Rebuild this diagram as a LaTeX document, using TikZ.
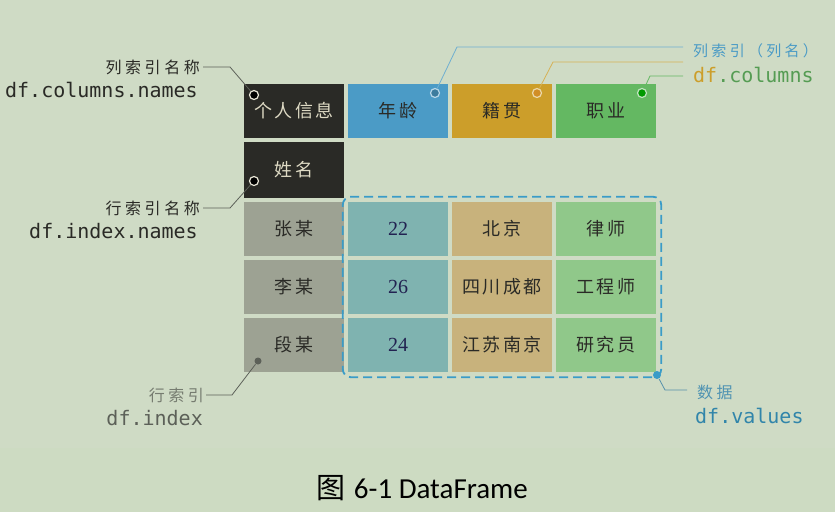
\documentclass[tikz,border=0pt]{standalone}
\usepackage{fontspec}
\usepackage{tikz}
\usetikzlibrary{positioning, calc, fit}
\newfontfamily\cjk[LetterSpace=12]{Noto Sans CJK SC}
\newfontfamily\cjkwide[LetterSpace=22]{Noto Sans CJK SC}
\newfontfamily\cjkplain{Noto Sans CJK SC}
\newfontfamily\monofont{DejaVu Sans Mono}
\newfontfamily\numfont{Liberation Serif}
\newfontfamily\capfont{Carlito}
\definecolor{bgtop}{RGB}{207, 219, 197}
\definecolor{bgbot}{RGB}{205, 219, 194}
\definecolor{inkdark}{RGB}{42, 42, 38}
\definecolor{inklight}{RGB}{222, 218, 196}
\definecolor{agecol}{RGB}{75, 155, 198}
\definecolor{origcol}{RGB}{204, 158, 42}
\definecolor{jobcol}{RGB}{100, 184, 98}
\definecolor{idxcol}{RGB}{157, 162, 147}
\definecolor{agedata}{RGB}{127, 179, 176}
\definecolor{origdata}{RGB}{200, 178, 124}
\definecolor{jobdata}{RGB}{144, 200, 138}
\definecolor{valblue}{RGB}{58, 156, 200}
\definecolor{leadgray}{RGB}{92, 96, 88}
\definecolor{labelgray}{RGB}{118, 124, 112}

\begin{document}
\begin{tikzpicture}[x=1pt, y=-1pt,
  cell/.style={minimum width=100pt, minimum height=54pt, inner sep=0pt, text=inkdark, font=\cjk\fontsize{18}{18}\selectfont},
  namecell/.style={cell, fill=inkdark, text=inklight},
  numcell/.style={cell, fill=agedata, text=inkdark!80!blue, font=\numfont\fontsize{20}{20}\selectfont},
  lead/.style={line width=0.8pt, draw=leadgray},
  pin/.style={circle, inner sep=0pt, minimum size=9pt, line width=1.2pt},
  cjklabel/.style={inner sep=0pt, font=\cjkwide\fontsize{16}{16}\selectfont},
  codelabel/.style={inner sep=0pt, font=\monofont\fontsize{20}{20}\selectfont}]

  % background
  \useasboundingbox (0,0) rectangle (835,512);
  \fill[bgtop] (0,0) rectangle (835,448);
  \fill[bgbot] (0,448) rectangle (835,512);

  % header row
  \node[namecell] (hname) at (294,111) {个人信息};
  \node[cell, fill=agecol] (hage) at (398,111) {年龄};
  \node[cell, fill=origcol] (horig) at (502,111) {籍贯};
  \node[cell, fill=jobcol] (hjob) at (606,111) {职业};
  \node[namecell, minimum height=56pt] (iname) at (294,170) {姓名};

  % index and data rows
  \node[cell, fill=idxcol] (i1) at (294,229) {张某};
  \node[cell, fill=idxcol] (i2) at (294,287) {李某};
  \node[cell, fill=idxcol] (i3) at (294,345) {段某};
  \node[numcell] (age1) at (398,229) {22};
  \node[numcell] (age2) at (398,287) {26};
  \node[numcell] (age3) at (398,345) {24};
  \node[cell, fill=origdata] (orig1) at (502,229) {北京};
  \node[cell, fill=origdata] (orig2) at (502,287) {四川成都};
  \node[cell, fill=origdata] (orig3) at (502,345) {江苏南京};
  \node[cell, fill=jobdata] (job1) at (606,229) {律师};
  \node[cell, fill=jobdata] (job2) at (606,287) {工程师};
  \node[cell, fill=jobdata] (job3) at (606,345) {研究员};

  % values frame
  \node[draw=valblue, dash pattern=on 9pt off 5pt, line width=1.8pt, rounded corners=8pt, inner sep=5pt, fit=(age1)(job3)] (vals) {};

  % pins
  \node[pin, fill=black, draw=inklight!70] (pA) at (254,95) {};
  \node[pin, fill=black, draw=inklight!70] (pB) at (254,181) {};
  \node[pin, fill=leadgray, minimum size=7pt] (pC) at (258,361) {};
  \node[pin, fill=agecol!80!black, draw=agecol!40!white] (pAge) at (435,93) {};
  \node[pin, fill=origcol!90!red, draw=origcol!40!white] (pOrig) at (537,93) {};
  \node[pin, fill=green!60!black, draw=jobcol!40!white] (pJob) at (642,93) {};
  \node[pin, fill=valblue, minimum size=8pt] (pVal) at (657,375) {};

  % left labels
  \node[cjklabel, text=inkdark, anchor=east] (colname) at (200,67) {列索引名称};
  \node[codelabel, text=inkdark, anchor=east] (colcode) at (198,90) {df.columns.names};
  \node[cjklabel, text=inkdark, anchor=east] (rowname) at (200,208) {行索引名称};
  \node[codelabel, text=inkdark, anchor=east] (rowcode) at (198,231) {df.index.names};
  \node[cjklabel, text=labelgray, anchor=east] (idxlbl) at (204,395) {行索引};
  \node[codelabel, text=leadgray, anchor=east] (idxcode) at (203,418) {df.index};

  % right labels
  \node[cjklabel, text=agecol, anchor=west, font=\cjkwide\fontsize{15}{15}\selectfont] (collbl) at (693,51) {列索引（列名）};
  \node[codelabel, anchor=west] (colcode2) at (693,75) {\textcolor{origcol}{df}\textcolor{jobcol!85!black}{.columns}};
  \node[cjklabel, text=valblue!70!gray, anchor=west] (vallbl) at (697,392) {数据};
  \node[codelabel, text=valblue!85!black, anchor=west] (valcode) at (695,416) {df.values};

  % leader lines
  \draw[lead] ([xshift=3pt]colname.east) -- ++(27,0) -- (pA);
  \draw[lead] ([xshift=3pt]rowname.east) -- ++(27,0) -- (pB);
  \draw[lead] ([xshift=2pt]idxlbl.east) -- ++(26,0) -- (pC);
  \draw[lead, draw=agecol!80] (pAge) -- ++(22,-46) -- ++(226,0);
  \draw[lead, draw=origcol!80] (pOrig) -- ++(16,-31) -- ++(130,0);
  \draw[lead, draw=jobcol] (pJob) -- ++(8,-17) -- ++(33,0);
  \draw[lead, draw=valblue!60!gray] (pVal) -- ++(8,15) -- ++(22,0);

  % caption
  \node[font=\fontsize{29}{29}\selectfont] (cap) at (422,488) {{\cjkplain 图} {\capfont 6-1 DataFrame}};
\end{tikzpicture}
\end{document}
